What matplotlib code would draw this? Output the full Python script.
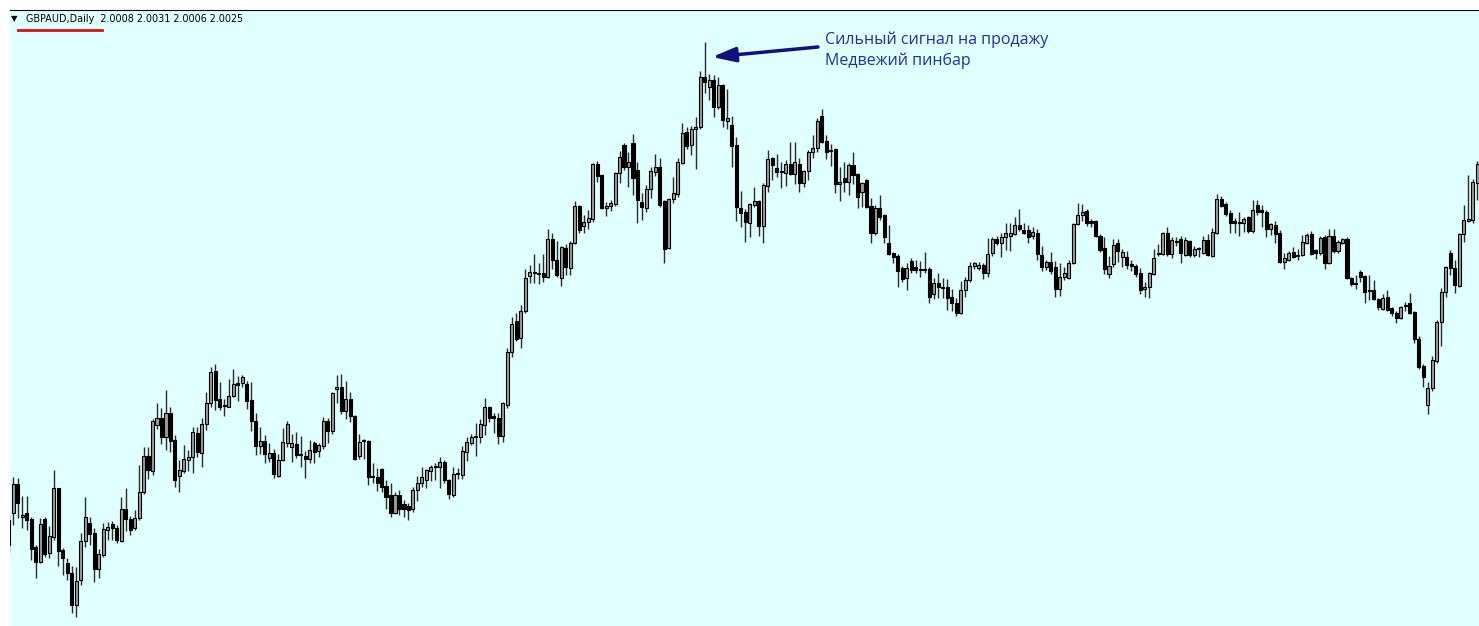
import numpy as np
import matplotlib
matplotlib.use('Agg')
import matplotlib.pyplot as plt

# GBPAUD daily candles, prices x1000
opens = [
    1650, 1657, 1686, 1653, 1657, 1651, 1623, 1608, 1651, 1617,
    1633, 1682, 1620, 1607, 1597, 1565, 1590, 1629, 1647, 1637,
    1601, 1615, 1640, 1646, 1642, 1629, 1661, 1651, 1642, 1652,
    1678, 1714, 1699, 1745, 1752, 1733, 1757, 1730, 1694, 1699,
    1710, 1713, 1737, 1717, 1746, 1767, 1799, 1771, 1764, 1763,
    1774, 1787, 1787, 1786, 1770, 1749, 1724, 1729, 1712, 1717,
    1694, 1710, 1727, 1723, 1726, 1715, 1714, 1711, 1727, 1719,
    1724, 1749, 1739, 1781, 1783, 1759, 1771, 1754, 1714, 1730,
    1729, 1694, 1693, 1701, 1684, 1675, 1657, 1675, 1666, 1664,
    1661, 1680, 1687, 1690, 1699, 1703, 1703, 1708, 1690, 1675,
    1696, 1695, 1718, 1727, 1733, 1733, 1745, 1763, 1754, 1752,
    1734, 1765, 1818, 1849, 1832, 1859, 1894, 1897, 1897, 1897,
    1893, 1931, 1910, 1892, 1922, 1902, 1927, 1964, 1944, 1948,
    1951, 2006, 1995, 1962, 1964, 1966, 1997, 2025, 2003, 2027,
    2000, 1968, 1962, 1981, 1998, 2003, 1969, 1922, 1971, 1976,
    2007, 2038, 2025, 2041, 2043, 2093, 2083, 2090, 2063, 2085,
    2049, 2045, 2025, 1962, 1958, 1947, 1965, 1969, 1944, 1984,
    2012, 2002, 1998, 1997, 2006, 1996, 2006, 1987, 1999, 2018,
    2022, 2054, 2029, 2019, 2021, 1986, 1992, 1988, 2005, 1996,
    1978, 1990, 1964, 1937, 1962, 1955, 1927, 1917, 1914, 1902,
    1892, 1909, 1903, 1901, 1900, 1901, 1876, 1887, 1883, 1883,
    1873, 1867, 1857, 1880, 1890, 1904, 1902, 1905, 1897, 1917,
    1931, 1927, 1933, 1934, 1936, 1945, 1940, 1940, 1934, 1937,
    1915, 1903, 1908, 1903, 1881, 1893, 1892, 1907, 1946, 1955,
    1959, 1949, 1949, 1934, 1922, 1896, 1906, 1927, 1913, 1913,
    1906, 1904, 1897, 1881, 1883, 1896, 1917, 1916, 1937, 1916,
    1928, 1931, 1915, 1929, 1915, 1921, 1917, 1930, 1914, 1937,
    1971, 1966, 1957, 1949, 1948, 1947, 1953, 1939, 1965, 1960,
    1958, 1941, 1945, 1937, 1908, 1910, 1918, 1915, 1915, 1927,
    1936, 1920, 1917, 1933, 1907, 1934, 1919, 1927, 1931, 1892,
    1887, 1898, 1894, 1880, 1880, 1871, 1861, 1873, 1862, 1857,
    1852, 1865, 1867, 1858, 1831, 1804, 1765, 1782, 1809, 1848,
    1878, 1917, 1902, 1884, 1936, 1949, 1950, 1987,
]
highs = [
    1655, 1693, 1692, 1674, 1674, 1653, 1625, 1652, 1653, 1644,
    1700, 1682, 1622, 1612, 1604, 1603, 1637, 1673, 1653, 1642,
    1621, 1647, 1648, 1649, 1645, 1673, 1682, 1654, 1660, 1705,
    1723, 1723, 1751, 1767, 1762, 1780, 1763, 1735, 1710, 1725,
    1720, 1743, 1743, 1752, 1778, 1803, 1806, 1788, 1771, 1791,
    1801, 1794, 1795, 1789, 1788, 1757, 1743, 1735, 1727, 1721,
    1716, 1742, 1749, 1736, 1738, 1734, 1719, 1730, 1729, 1727,
    1753, 1752, 1778, 1795, 1796, 1789, 1778, 1755, 1736, 1731,
    1730, 1707, 1702, 1702, 1690, 1687, 1678, 1680, 1670, 1667,
    1683, 1694, 1703, 1701, 1705, 1707, 1713, 1710, 1691, 1703,
    1702, 1724, 1733, 1736, 1747, 1751, 1772, 1764, 1757, 1757,
    1768, 1822, 1853, 1857, 1865, 1901, 1905, 1916, 1907, 1916,
    1941, 1937, 1929, 1924, 1926, 1929, 1969, 1965, 1955, 1960,
    2007, 2009, 1996, 1968, 1970, 1998, 2019, 2027, 2018, 2036,
    2008, 1977, 1985, 2003, 2016, 2012, 1970, 1972, 1993, 2012,
    2047, 2043, 2044, 2053, 2099, 2128, 2096, 2095, 2093, 2086,
    2081, 2054, 2033, 1979, 1961, 1967, 1983, 1970, 1987, 2020,
    2013, 2016, 2008, 2010, 2028, 2028, 2012, 2000, 2020, 2035,
    2052, 2061, 2035, 2026, 2022, 2003, 2008, 2007, 2018, 1997,
    1988, 1991, 1972, 1965, 1975, 1956, 1945, 1918, 1916, 1904,
    1907, 1912, 1910, 1909, 1918, 1903, 1892, 1897, 1892, 1891,
    1881, 1872, 1889, 1893, 1908, 1908, 1908, 1907, 1932, 1933,
    1934, 1937, 1947, 1947, 1953, 1961, 1947, 1945, 1943, 1941,
    1924, 1910, 1918, 1909, 1907, 1903, 1910, 1947, 1967, 1966,
    1961, 1951, 1950, 1936, 1933, 1914, 1931, 1931, 1921, 1919,
    1910, 1906, 1902, 1888, 1898, 1921, 1926, 1938, 1943, 1933,
    1933, 1934, 1933, 1930, 1924, 1923, 1934, 1936, 1942, 1976,
    1974, 1968, 1960, 1952, 1958, 1953, 1954, 1970, 1970, 1965,
    1960, 1947, 1949, 1940, 1917, 1919, 1923, 1921, 1935, 1937,
    1939, 1921, 1934, 1935, 1941, 1941, 1930, 1932, 1933, 1893,
    1895, 1900, 1895, 1895, 1890, 1872, 1876, 1880, 1863, 1859,
    1864, 1868, 1877, 1859, 1834, 1806, 1788, 1814, 1850, 1882,
    1904, 1920, 1910, 1937, 1965, 1995, 1991, 2009,
]
lows = [
    1618, 1645, 1652, 1642, 1640, 1610, 1592, 1607, 1613, 1612,
    1630, 1604, 1595, 1590, 1557, 1553, 1585, 1623, 1625, 1588,
    1592, 1613, 1630, 1630, 1627, 1628, 1639, 1635, 1640, 1650,
    1676, 1691, 1695, 1741, 1726, 1720, 1718, 1683, 1678, 1697,
    1699, 1697, 1713, 1703, 1740, 1763, 1760, 1760, 1754, 1763,
    1773, 1769, 1783, 1761, 1739, 1715, 1716, 1707, 1708, 1692,
    1693, 1709, 1723, 1708, 1712, 1703, 1692, 1707, 1707, 1713,
    1721, 1727, 1736, 1767, 1756, 1751, 1748, 1710, 1711, 1711,
    1685, 1687, 1679, 1678, 1661, 1653, 1656, 1655, 1653, 1650,
    1658, 1669, 1683, 1682, 1689, 1690, 1682, 1687, 1671, 1673,
    1691, 1691, 1709, 1725, 1714, 1727, 1735, 1748, 1737, 1726,
    1728, 1762, 1813, 1829, 1822, 1857, 1887, 1887, 1886, 1888,
    1892, 1901, 1893, 1884, 1895, 1895, 1926, 1937, 1937, 1941,
    1948, 1988, 1961, 1954, 1959, 1964, 1987, 2000, 1983, 1975,
    1947, 1950, 1958, 1972, 1994, 1963, 1907, 1921, 1967, 1973,
    2006, 2021, 2015, 2001, 2041, 2077, 2070, 2053, 2061, 2043,
    2041, 2003, 1949, 1943, 1928, 1933, 1963, 1934, 1927, 1978,
    1990, 1993, 1982, 1984, 1995, 1986, 1978, 1983, 1990, 2012,
    2018, 2027, 2011, 2004, 1977, 1969, 1978, 1975, 1986, 1962,
    1963, 1962, 1927, 1935, 1950, 1927, 1915, 1907, 1883, 1888,
    1880, 1897, 1897, 1893, 1897, 1867, 1871, 1872, 1872, 1860,
    1859, 1854, 1856, 1873, 1888, 1901, 1900, 1891, 1893, 1914,
    1925, 1913, 1920, 1919, 1935, 1939, 1936, 1927, 1931, 1910,
    1899, 1900, 1896, 1873, 1874, 1890, 1891, 1906, 1945, 1949,
    1944, 1943, 1933, 1918, 1896, 1892, 1903, 1908, 1903, 1901,
    1899, 1893, 1876, 1873, 1872, 1895, 1914, 1915, 1914, 1912,
    1924, 1907, 1914, 1913, 1913, 1913, 1916, 1914, 1913, 1936,
    1963, 1954, 1937, 1937, 1934, 1938, 1937, 1937, 1955, 1943,
    1933, 1935, 1927, 1907, 1901, 1909, 1912, 1910, 1914, 1926,
    1915, 1911, 1915, 1901, 1906, 1917, 1917, 1926, 1891, 1884,
    1881, 1888, 1867, 1870, 1870, 1860, 1860, 1859, 1854, 1847,
    1851, 1859, 1856, 1827, 1801, 1783, 1756, 1779, 1807, 1824,
    1873, 1895, 1877, 1883, 1928, 1948, 1947, 1970,
]
closes = [
    1625, 1686, 1667, 1655, 1650, 1621, 1608, 1646, 1616, 1634,
    1682, 1619, 1612, 1597, 1565, 1589, 1629, 1653, 1636, 1601,
    1616, 1641, 1643, 1642, 1630, 1661, 1651, 1640, 1652, 1678,
    1714, 1700, 1749, 1752, 1733, 1757, 1729, 1690, 1700, 1711,
    1713, 1738, 1718, 1746, 1767, 1798, 1770, 1763, 1765, 1774,
    1786, 1785, 1793, 1769, 1749, 1724, 1729, 1716, 1717, 1696,
    1710, 1728, 1746, 1727, 1715, 1716, 1711, 1720, 1718, 1725,
    1749, 1739, 1777, 1783, 1759, 1771, 1754, 1711, 1728, 1729,
    1693, 1693, 1687, 1683, 1673, 1657, 1675, 1661, 1661, 1660,
    1680, 1687, 1693, 1700, 1703, 1704, 1708, 1690, 1676, 1696,
    1697, 1719, 1728, 1733, 1734, 1746, 1763, 1752, 1752, 1734,
    1767, 1818, 1846, 1831, 1859, 1892, 1898, 1898, 1896, 1893,
    1931, 1910, 1895, 1923, 1903, 1927, 1964, 1940, 1948, 1952,
    2006, 1994, 1962, 1964, 1967, 1997, 2013, 2003, 2008, 1992,
    1970, 1963, 1981, 1999, 2003, 1965, 1921, 1971, 1977, 2008,
    2037, 2024, 2041, 2043, 2093, 2088, 2090, 2063, 2085, 2050,
    2052, 2024, 1963, 1957, 1948, 1966, 1969, 1944, 1985, 2011,
    2005, 1998, 1999, 2006, 1996, 2008, 1987, 1999, 2018, 2022,
    2049, 2028, 2018, 2020, 1986, 1988, 1988, 2005, 1995, 1973,
    1987, 1963, 1937, 1962, 1953, 1933, 1916, 1913, 1899, 1891,
    1902, 1900, 1900, 1900, 1901, 1873, 1887, 1883, 1882, 1872,
    1867, 1857, 1880, 1890, 1904, 1907, 1905, 1897, 1916, 1931,
    1927, 1933, 1937, 1937, 1945, 1941, 1937, 1933, 1938, 1916,
    1903, 1908, 1899, 1881, 1893, 1897, 1907, 1946, 1955, 1958,
    1947, 1947, 1934, 1920, 1901, 1904, 1925, 1919, 1918, 1905,
    1904, 1896, 1880, 1883, 1897, 1912, 1916, 1937, 1916, 1930,
    1929, 1917, 1930, 1915, 1921, 1922, 1930, 1915, 1938, 1971,
    1964, 1956, 1947, 1947, 1947, 1951, 1939, 1960, 1958, 1958,
    1941, 1946, 1936, 1908, 1912, 1917, 1913, 1914, 1928, 1935,
    1916, 1917, 1932, 1907, 1934, 1919, 1928, 1931, 1892, 1886,
    1886, 1893, 1878, 1879, 1871, 1863, 1872, 1860, 1857, 1852,
    1863, 1864, 1857, 1831, 1803, 1793, 1782, 1810, 1848, 1878,
    1903, 1902, 1885, 1936, 1950, 1951, 1988, 2006,
]

symbol = 'GBPAUD,Daily'
last_ohlc = '2.0008 2.0031 2.0006 2.0025'
note_lines = ['Сильный сигнал на продажу', 'Медвежий пинбар']
pinbar_idx = 155

o = np.array(opens) / 1000
h = np.array(highs) / 1000
l = np.array(lows) / 1000
c = np.array(closes) / 1000
idx = np.arange(len(o))

W, H = 1479, 626
fig = plt.figure(figsize=(W / 100, H / 100), dpi=100)
fig.patch.set_facecolor('white')
ax = fig.add_axes([10 / W, 0, (W - 10) / W, (H - 10) / H])
ax.set_facecolor('#e0ffff')
ax.set_xlim(0.265, 327.4)
ax.set_ylim(1.544, 2.160)
ax.set_xticks([])
ax.set_yticks([])
for side in ['left', 'right', 'bottom']:
    ax.spines[side].set_visible(False)
ax.spines['top'].set_color('black')
ax.spines['top'].set_linewidth(0.8)

# wicks
ax.vlines(idx, l, h, color='#2a2a2a', linewidth=1.0, zorder=2)

# bodies: bulls grey, bears black
up = c >= o
bottom = np.minimum(o, c)
height = np.maximum(np.abs(c - o), 0.0009)
ax.bar(idx[up], height[up], bottom=bottom[up], width=0.68,
       color='#9c9c9c', edgecolor='black', linewidth=0.8, zorder=3)
ax.bar(idx[~up], height[~up], bottom=bottom[~up], width=0.68,
       color='black', edgecolor='black', linewidth=0.8, zorder=3)

# header
fig.text(11 / W, 1 - 19 / H, '▼', fontsize=6, va='center', ha='left', color='black')
fig.text(26 / W, 1 - 19 / H, symbol + '  ' + last_ohlc, fontsize=6.9,
         va='center', ha='left', color='black', family='DejaVu Sans')
fig.add_artist(plt.Line2D([18 / W, 102 / W], [1 - 30 / H, 1 - 30 / H],
                          color='#e01010', linewidth=2))

# annotation
ax.annotate('', xy=(pinbar_idx + 1.6, h[pinbar_idx] - 0.015),
            xytext=(818, H - 47), textcoords='figure pixels',
            arrowprops=dict(arrowstyle='-|>,head_length=0.7,head_width=0.22',
                            mutation_scale=20, color='#101080', lw=2.5,
                            shrinkA=0, shrinkB=0))
fig.text(825 / W, 1 - 40 / H, note_lines[0], fontsize=11.5, color='#2030a0',
         va='center', ha='left', family=['Open Sans', 'DejaVu Sans'])
fig.text(825 / W, 1 - 61 / H, note_lines[1], fontsize=11.5, color='#2030a0',
         va='center', ha='left', family=['Open Sans', 'DejaVu Sans'])

fig.savefig('out.png', dpi=100)
